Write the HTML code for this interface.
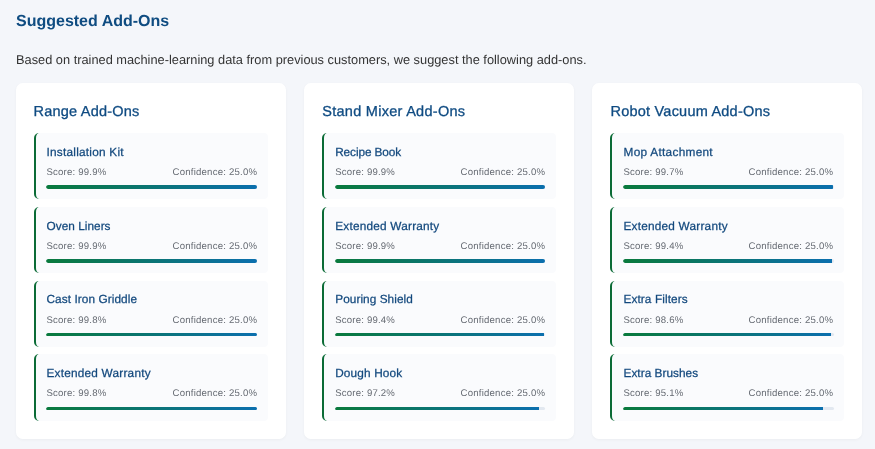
<!DOCTYPE html>
<html><head><meta charset="utf-8">
<style>
html,body{margin:0;padding:0;}
body{width:875px;height:449px;overflow:hidden;background:#f4f6fa;font-family:"Liberation Sans",sans-serif;position:relative;text-rendering:geometricPrecision;-webkit-font-smoothing:antialiased;}
h2{position:absolute;left:16px;top:12px;margin:0;font-size:16px;line-height:20px;font-weight:bold;color:#0f4c81;white-space:nowrap;will-change:transform;}
p.desc{position:absolute;left:16px;top:52px;margin:0;font-size:12.8px;line-height:16px;color:#333;white-space:nowrap;will-change:transform;}
.card{position:absolute;top:83px;width:270px;height:356px;background:#fff;border-radius:7px;box-shadow:0 1px 3px rgba(0,0,0,0.04);will-change:transform;}
.card h3{position:absolute;left:calc(17.5px + var(--dx));top:20px;margin:0;font-size:14.5px;line-height:18px;font-weight:normal;color:#0f4b82;-webkit-text-stroke:0.3px #0f4b82;white-space:nowrap;}
.item{position:absolute;left:18px;width:232px;background:#fafbfd;border-left:2px solid #0b6b36;border-radius:5px 4px 4px 5px;}
.item .name{position:absolute;left:calc(10.5px + var(--dx));top:12px;font-size:11.8px;line-height:14px;color:#12487d;-webkit-text-stroke:0.25px #12487d;white-space:nowrap;}
.item .sc{position:absolute;left:calc(10.5px + var(--dx));top:34px;font-size:9.6px;letter-spacing:0.19px;line-height:12px;color:#666b73;white-space:nowrap;}
.item .cf{position:absolute;right:10.8px;top:34px;font-size:9.6px;letter-spacing:0.21px;line-height:12px;color:#666b73;white-space:nowrap;}
.item .bar{position:absolute;left:calc(10px + var(--bx));top:52px;width:calc(211px - var(--bw));height:4px;border-radius:2px;background:#e2e8f0;overflow:hidden;}
.item .bar i{display:block;height:4px;border-radius:2px 0 0 2px;background:linear-gradient(90deg,#0a7a3c,#0b6fae);}

</style></head><body>
<h2>Suggested Add-Ons</h2>
<p class="desc">Based on trained machine-learning data from previous customers, we suggest the following add-ons.</p>
<div class="card" style="left:16px;--dx:0px;--bx:0px;--bw:0px">
<h3 style="letter-spacing:0.22px">Range Add-Ons</h3>
<div class="item" style="top:50px;height:66px"><span class="name" style="top:12px;letter-spacing:0.24px">Installation Kit</span><span class="sc">Score: 99.9%</span><span class="cf">Confidence: 25.0%</span><div class="bar" style="top:52px;height:4px"><i style="width:99.9%"></i></div></div>
<div class="item" style="top:124px;height:66px"><span class="name" style="top:12px;letter-spacing:0.04px">Oven Liners</span><span class="sc">Score: 99.9%</span><span class="cf">Confidence: 25.0%</span><div class="bar" style="top:52px;height:4px"><i style="width:99.9%"></i></div></div>
<div class="item" style="top:198px;height:66px"><span class="name" style="top:11px;letter-spacing:0.08px">Cast Iron Griddle</span><span class="sc">Score: 99.8%</span><span class="cf">Confidence: 25.0%</span><div class="bar" style="top:52px;height:3px"><i style="width:99.8%"></i></div></div>
<div class="item" style="top:271px;height:67px"><span class="name" style="top:12px;letter-spacing:0.22px">Extended Warranty</span><span class="sc">Score: 99.8%</span><span class="cf">Confidence: 25.0%</span><div class="bar" style="top:53px;height:3px"><i style="width:99.8%"></i></div></div>
</div>
<div class="card" style="left:304px;--dx:0.7px;--bx:1px;--bw:0.6px">
<h3 style="letter-spacing:0.28px">Stand Mixer Add-Ons</h3>
<div class="item" style="top:50px;height:66px"><span class="name" style="top:12px;letter-spacing:-0.09px">Recipe Book</span><span class="sc">Score: 99.9%</span><span class="cf">Confidence: 25.0%</span><div class="bar" style="top:52px;height:4px"><i style="width:99.9%"></i></div></div>
<div class="item" style="top:124px;height:66px"><span class="name" style="top:12px;letter-spacing:0.22px">Extended Warranty</span><span class="sc">Score: 99.9%</span><span class="cf">Confidence: 25.0%</span><div class="bar" style="top:52px;height:4px"><i style="width:99.9%"></i></div></div>
<div class="item" style="top:198px;height:66px"><span class="name" style="top:11px;letter-spacing:0.07px">Pouring Shield</span><span class="sc">Score: 99.4%</span><span class="cf">Confidence: 25.0%</span><div class="bar" style="top:52px;height:3px"><i style="width:99.4%"></i></div></div>
<div class="item" style="top:271px;height:67px"><span class="name" style="top:12px;letter-spacing:0.15px">Dough Hook</span><span class="sc">Score: 97.2%</span><span class="cf">Confidence: 25.0%</span><div class="bar" style="top:53px;height:3px"><i style="width:97.2%"></i></div></div>
</div>
<div class="card" style="left:592px;--dx:1.0px;--bx:1px;--bw:0.5px">
<h3 style="letter-spacing:0.22px">Robot Vacuum Add-Ons</h3>
<div class="item" style="top:50px;height:66px"><span class="name" style="top:12px;letter-spacing:0.3px">Mop Attachment</span><span class="sc">Score: 99.7%</span><span class="cf">Confidence: 25.0%</span><div class="bar" style="top:52px;height:4px"><i style="width:99.7%"></i></div></div>
<div class="item" style="top:124px;height:66px"><span class="name" style="top:12px;letter-spacing:0.22px">Extended Warranty</span><span class="sc">Score: 99.4%</span><span class="cf">Confidence: 25.0%</span><div class="bar" style="top:52px;height:4px"><i style="width:99.4%"></i></div></div>
<div class="item" style="top:198px;height:66px"><span class="name" style="top:11px;letter-spacing:0.1px">Extra Filters</span><span class="sc">Score: 98.6%</span><span class="cf">Confidence: 25.0%</span><div class="bar" style="top:52px;height:3px"><i style="width:98.6%"></i></div></div>
<div class="item" style="top:271px;height:67px"><span class="name" style="top:12px;letter-spacing:0.04px">Extra Brushes</span><span class="sc">Score: 95.1%</span><span class="cf">Confidence: 25.0%</span><div class="bar" style="top:53px;height:3px"><i style="width:95.1%"></i></div></div>
</div>
</body></html>
